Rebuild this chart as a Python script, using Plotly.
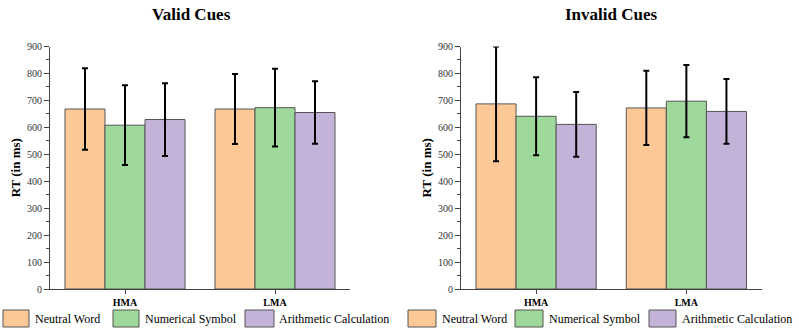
import plotly.graph_objects as go

groups = ["HMA", "LMA"]
conditions = ["Neutral Word", "Numerical Symbol", "Arithmetic Calculation"]
colors = ["#FCC896", "#9ED89A", "#C3B3D8"]

valid_means = {
    "Neutral Word": [668, 668],
    "Numerical Symbol": [608, 673],
    "Arithmetic Calculation": [629, 655],
}
valid_err = {
    "Neutral Word": [151, 130],
    "Numerical Symbol": [148, 144],
    "Arithmetic Calculation": [135, 116],
}
invalid_means = {
    "Neutral Word": [687, 672],
    "Numerical Symbol": [641, 697],
    "Arithmetic Calculation": [611, 659],
}
invalid_err = {
    "Neutral Word": [213, 138],
    "Numerical Symbol": [145, 134],
    "Arithmetic Calculation": [120, 120],
}
titles = ["Valid Cues", "Invalid Cues"]
y_ticks = [0, 100, 200, 300, 400, 500, 600, 700, 800, 900]

W, H = 799, 333
SERIF = "Liberation Serif, Times New Roman, serif"

fig = go.Figure()
for panel, (means, errs) in enumerate([(valid_means, valid_err), (invalid_means, invalid_err)]):
    xa = "x" if panel == 0 else "x2"
    ya = "y" if panel == 0 else "y2"
    for cond, col in zip(conditions, colors):
        fig.add_trace(go.Bar(
            x=groups, y=means[cond], name=cond, xaxis=xa, yaxis=ya,
            marker=dict(color=col, line=dict(color="#555555", width=1)),
            error_y=dict(type="data", array=errs[cond], color="black", thickness=2, width=3),
            showlegend=False, offsetgroup=cond,
        ))

px = lambda v: v / W
py = lambda v: 1 - v / H

axis_common = dict(showline=True, linecolor="#444444", linewidth=1, ticks="outside",
                   tickcolor="#444444", showgrid=False, zeroline=False)
yax = dict(axis_common, range=[0, 900], tickvals=y_ticks, ticklen=5,
           tickfont=dict(family=SERIF, size=10, color="#333333"),
           minor=dict(ticks="outside", ticklen=3, dtick=50, tickcolor="#444444"),
           title=dict(text="<b>RT (in ms)</b>", font=dict(family=SERIF, size=13, color="black"), standoff=3),
           domain=[py(289), py(46.5)], automargin=False)
xax = dict(axis_common, range=[-0.5, 1.5], ticklen=4,
           tickfont=dict(family=SERIF, size=10, color="black"),
           tickvals=groups, ticktext=["<b>HMA</b>", "<b>LMA</b>"], automargin=False)

fig.update_layout(
    width=W, height=H, margin=dict(l=0, r=0, t=0, b=0),
    paper_bgcolor="white", plot_bgcolor="white",
    barmode="group", bargap=0.2, bargroupgap=0,
    xaxis=dict(xax, domain=[px(50), px(350)], anchor="y"),
    yaxis=dict(yax, anchor="x"),
    xaxis2=dict(xax, domain=[px(461), px(761.5)], anchor="y2"),
    yaxis2=dict(yax, anchor="x2"),
    showlegend=False,
)

# titles
for cx, t in [(191, titles[0]), (611, titles[1])]:
    fig.add_annotation(x=px(cx), y=py(14), xref="paper", yref="paper", text="<b>%s</b>" % t,
                       showarrow=False, font=dict(family=SERIF, size=17, color="black"),
                       xanchor="center", yanchor="middle")

# custom legends
legend_pos = [
    [(3, 29, 33), (113, 139, 143), (245, 274, 277)],
    [(408, 436, 440), (515, 543, 547), (649, 676, 680)],
]
for row in legend_pos:
    for (x0, x1, tx), cond, col in zip(row, conditions, colors):
        fig.add_shape(type="rect", xref="paper", yref="paper",
                      x0=px(x0), x1=px(x1), y0=py(327), y1=py(310),
                      fillcolor=col, line=dict(color="#555555", width=1))
        fig.add_annotation(x=px(tx), y=py(318.5), xref="paper", yref="paper", text=cond,
                           showarrow=False, xanchor="left", yanchor="middle",
                           font=dict(family=SERIF, size=12, color="black"))

fig.write_html("out.html")
